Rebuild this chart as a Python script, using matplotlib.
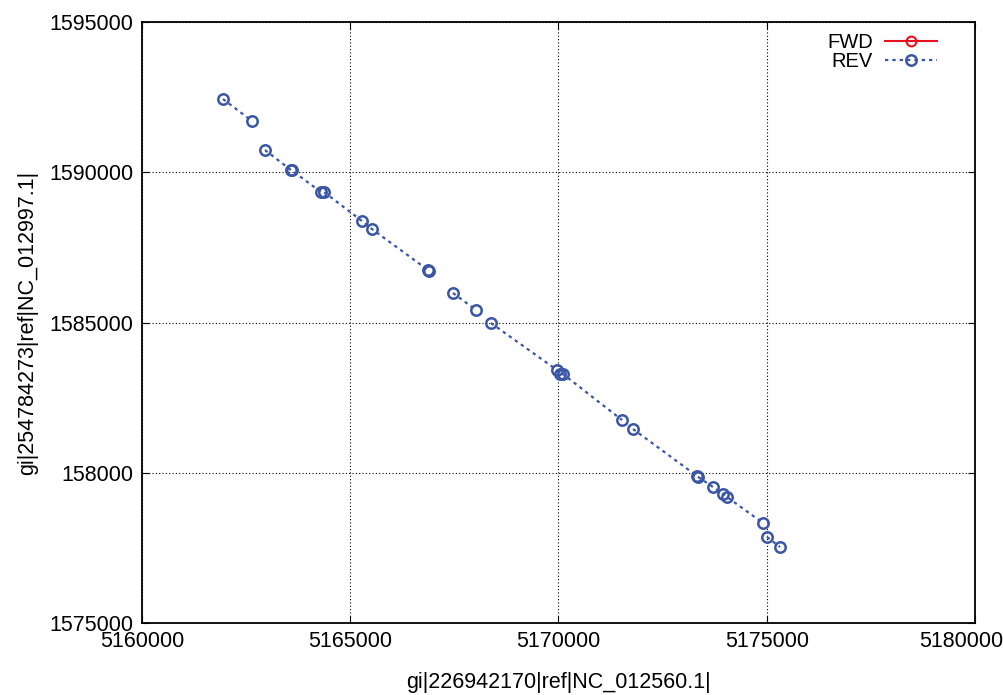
# -*- coding: utf-8 -*-
"""
dot plot of reverse alignments between two reference sequences
"""
import matplotlib
matplotlib.use('agg')
import matplotlib.pyplot as plt
import matplotlib.transforms as mtransforms

## data - each sub list is one run of aligned points (REV strand)
rev_x = [
    [5161945, 5162641],
    [5162953, 5163577, 5163600, 5164298, 5164370, 5165282, 5165522, 5166867, 5166890],
    [5167467, 5168019],
    [5168379, 5169964, 5170036, 5170108, 5171525],
    [5171789, 5173325, 5173345, 5173709, 5173950, 5174046, 5174910],
    [5175006, 5175318],
]
rev_y = [
    [1592438, 1591705],
    [1590740, 1590075, 1590060, 1589343, 1589343, 1588378, 1588111, 1586747, 1586730],
    [1585982, 1585416],
    [1584983, 1583419, 1583286, 1583286, 1581755],
    [1581456, 1579892, 1579870, 1579526, 1579293, 1579193, 1578328],
    [1577862, 1577529],
]
fwd_x = []
fwd_y = []

x_ticks = [5160000, 5165000, 5170000, 5175000, 5180000]
y_ticks = [1575000, 1580000, 1585000, 1590000, 1595000]
y_tick_labels = ['1575000', '158000', '1585000', '1590000', '1595000']  # as printed
x_label = 'gi|226942170|ref|NC_012560.1|'
y_label = 'gi|254784273|ref|NC_012997.1|'

# plot
plt.rcParams['font.family'] = ['Liberation Sans', 'DejaVu Sans']
blue = '#3a56a5'
red = '#e8101f'

fig = plt.figure(figsize=(10.04, 6.95), dpi=100)
ax = fig.add_axes([0.1414, 0.1036, 0.8297, 0.8647])

ax.plot(fwd_x, fwd_y, '-', color=red, lw=1.5, marker='o', ms=7,
        mfc='none', mec=red, mew=1.5, label='FWD')
for i, (xs, ys) in enumerate(zip(rev_x, rev_y)):
    ax.plot(xs, ys, linestyle=(0, (1.5, 1.8)), color=blue, lw=1.6,
            marker='o', ms=7.5, mfc='none', mec=blue, mew=1.8,
            label='REV' if i == 0 else None)

ax.set_xlim(5160000, 5180000)
ax.set_ylim(1575000, 1595000)
ax.set_xticks(x_ticks)
ax.set_xticklabels([str(v) for v in x_ticks])
ax.set_yticks(y_ticks)
ax.set_yticklabels(y_tick_labels)
ax.tick_params(direction='in', length=5, width=0.8, labelsize=15.5,
               top=True, right=True, pad=6)
ax.grid(True, color='black', linestyle=(0, (1, 2)), lw=0.8)
for s in ax.spines.values():
    s.set_linewidth(1.3)

# last x label sits at the right edge of the image, nudge it in
last = ax.get_xticklabels()[-1]
last.set_transform(last.get_transform() +
                   mtransforms.ScaledTranslation(-0.14, 0, fig.dpi_scale_trans))

ax.set_xlabel(x_label, fontsize=15.5, labelpad=14)
ax.set_ylabel(y_label, fontsize=15.5, labelpad=8)

leg = ax.legend(loc='upper right', bbox_to_anchor=(0.955, 0.982),
                frameon=False, markerfirst=False, fontsize=14.5,
                handlelength=2.6, handletextpad=0.6, labelspacing=0.0,
                borderpad=0, borderaxespad=0)

plt.savefig('out.png', dpi=100)
